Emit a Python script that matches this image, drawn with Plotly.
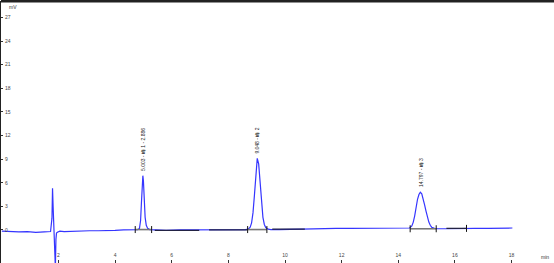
import plotly.graph_objects as go

# Chromatogram signal (time in min, signal in mV)
time_min = [0.0, 0.3, 0.6, 0.9, 1.2, 1.5, 1.72, 1.77, 1.79, 1.81, 1.83, 1.85, 1.87, 1.89,
            1.91, 1.93, 1.96, 2.0, 2.05, 2.2, 2.5, 2.8, 3.1, 3.4, 3.7, 4.0, 4.3, 4.6, 4.8,
            4.86, 4.9, 4.93, 4.96, 4.98, 5.0, 5.03, 5.06, 5.1, 5.15, 5.22, 5.4, 5.8,
            6.3, 6.8, 7.3, 7.8, 8.3, 8.6, 8.7, 8.77, 8.82, 8.87, 8.92, 8.97, 9.02, 9.07,
            9.12, 9.17, 9.22, 9.27, 9.32, 9.4, 9.5, 9.8, 10.3, 10.8, 11.3, 11.8, 12.3,
            12.8, 13.3, 13.8, 14.2, 14.4, 14.48, 14.53, 14.58, 14.63, 14.68, 14.73, 14.78,
            14.83, 14.88, 14.93, 14.98, 15.03, 15.08, 15.13, 15.18, 15.28, 15.38, 15.7, 16.2,
            16.7, 17.2, 17.6, 18.03]
signal_mv = [-0.15, -0.2, -0.25, -0.2, -0.3, -0.25, -0.2, 1.5, 5.3, 3.0, 0.5, -1.0, -4.8,
             -4.8, -1.2, -0.4, -0.3, -0.2, -0.15, -0.2, -0.15, -0.15, -0.1, -0.1, -0.1,
             -0.05, 0.0, 0.05, 0.05, 0.2, 1.2, 3.5, 6.0, 6.9, 6.2, 3.6, 1.6, 0.6, 0.2,
             0.05, 0.0, -0.05, 0.0, 0.0, 0.0, 0.0, 0.05, 0.05, 0.1, 0.35, 0.9, 2.2, 4.4,
             7.2, 9.1, 8.4, 5.9, 3.3, 1.6, 0.7, 0.3, 0.1, 0.05, 0.05, 0.1, 0.15, 0.2,
             0.2, 0.2, 0.2, 0.2, 0.2, 0.2, 0.25, 0.5, 1.0, 1.8, 2.9, 3.9, 4.5, 4.8, 4.6,
             4.0, 3.2, 2.4, 1.6, 1.0, 0.6, 0.35, 0.2, 0.15, 0.15, 0.2, 0.2, 0.2, 0.25,
             0.25]

# Integration baselines (start, end, level) and peak labels
under_peak_start = [4.71, 8.68, 14.42]
under_peak_end = [5.29, 9.36, 15.34]
under_peak_level = [0.05, 0.05, 0.15]
between_start = [5.40, 7.32, 9.55, 15.70]
between_end = [6.97, 8.66, 10.7, 16.41]
between_level = [-0.05, 0.0, 0.1, 0.2]
peak_times = [4.98, 9.02, 14.78]
peak_heights = [6.9, 9.1, 4.8]
peak_labels = ["5.003 - 峰 1 - 2.886", "9.048 - 峰 2", "14.797 - 峰 3"]

y_ticks = [-3, 0, 3, 6, 9, 12, 15, 18, 21, 24, 27]
x_ticks = [2, 4, 6, 8, 10, 12, 14, 16, 18]

fig = go.Figure()

fig.add_trace(go.Scatter(x=time_min, y=signal_mv, mode="lines",
                         line=dict(color="#3535ff", width=1.2), hoverinfo="skip"))

bx, by = [], []
for s, e, lv in zip(under_peak_start, under_peak_end, under_peak_level):
    bx += [s, e, None]
    by += [lv, lv, None]
fig.add_trace(go.Scatter(x=bx, y=by, mode="lines", line=dict(color="#777777", width=1.6),
                         hoverinfo="skip"))
dx, dy = [], []
for s, e, lv in zip(between_start, between_end, between_level):
    dx += [s, e, None]
    dy += [lv, lv, None]
fig.add_trace(go.Scatter(x=dx, y=dy, mode="lines", line=dict(color="#222244", width=1.3),
                         hoverinfo="skip"))
mx = under_peak_start + under_peak_end + [between_end[-1]]
my = under_peak_level + under_peak_level + [between_level[-1]]
fig.add_trace(go.Scatter(x=mx, y=my, mode="markers",
                         marker=dict(symbol="line-ns", size=5, line=dict(width=1, color="#111111")),
                         hoverinfo="skip"))

for t, h, lab in zip(peak_times, peak_heights, peak_labels):
    fig.add_annotation(x=t, y=h, text=lab, textangle=-90, showarrow=False,
                       xanchor="center", yanchor="bottom", yshift=3,
                       font=dict(size=5, color="#222222", family="Liberation Sans"))

fig.add_annotation(xref="paper", yref="paper", x=0.01, y=0.997, text="mV", showarrow=False,
                   xanchor="left", yanchor="top", font=dict(size=5, color="#333333"))
fig.add_annotation(xref="paper", yref="paper", x=0.995, y=0.005, text="min", showarrow=False,
                   xanchor="right", yanchor="bottom", font=dict(size=5, color="#333333"))

fig.update_layout(
    width=554, height=263, margin=dict(l=1, r=0, t=1, b=0),
    paper_bgcolor="white", plot_bgcolor="white", showlegend=False,
    font=dict(family="Liberation Sans", size=5, color="#444444"),
    xaxis=dict(range=[-0.03, 19.5], tickvals=x_ticks, ticktext=[str(v) for v in x_ticks],
               ticklabelposition="inside", ticks="inside", ticklen=3, tickcolor="#333",
               showgrid=False, zeroline=False, showline=False),
    yaxis=dict(range=[-4.2, 29.1], tickvals=y_ticks, ticktext=[str(v) for v in y_ticks],
               ticklabelposition="inside", ticks="inside", ticklen=2, tickcolor="#333",
               showgrid=False, zeroline=False, showline=True, linecolor="#222", linewidth=2),
    shapes=[dict(type="line", xref="paper", yref="paper", x0=0, x1=1, y0=1, y1=1,
                 line=dict(color="#222", width=3))],
)

fig.write_html("out.html")
